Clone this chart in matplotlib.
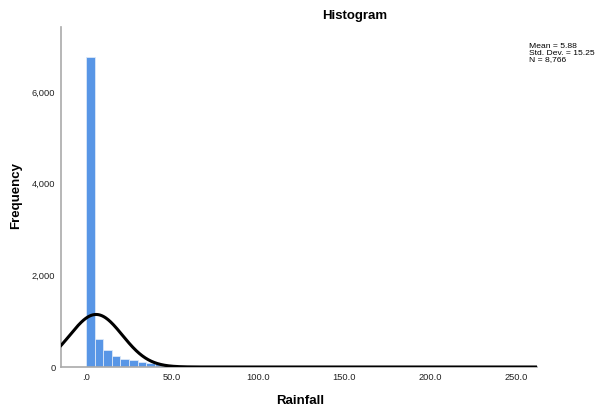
import numpy as np
import matplotlib.pyplot as plt

plt.rcParams['font.family'] = ['Liberation Sans', 'DejaVu Sans']

# --- Data ---
bin_width = 5.0
bin_starts = np.arange(0, 265, 5.0)   # 0, 5, ..., 260
counts = [6770, 604, 370, 247, 181, 153, 109, 80, 55, 35,
          22, 15, 10, 7, 6, 5, 4, 4, 3, 3,
          3, 2, 2, 2, 2, 1, 1, 1, 1, 1,
          1, 1, 1, 1, 1, 1, 1, 1, 0, 1,
          0, 1, 0, 1, 0, 0, 1, 0, 0, 0,
          1, 0, 1]
mean, sd, n = 5.88, 15.25, 8766
xticks = [0, 50, 100, 150, 200, 250]
xticklabels = ['.0', '50.0', '100.0', '150.0', '200.0', '250.0']
yticks = [0, 2000, 4000, 6000]
yticklabels = ['0', '2,000', '4,000', '6,000']

fig = plt.figure(figsize=(6.16, 4.11), dpi=100)
ax = fig.add_axes([61/616, 1 - 367/411, (537 - 61)/616, (367 - 27)/411])

ax.bar(bin_starts[:len(counts)], counts, width=bin_width, align='edge',
       color='#5896E6', edgecolor='#dce8f8', linewidth=0.6, zorder=2)

# normal curve from the stated mean / sd / N
xs = np.linspace(-16, 262, 800)
pdf = n * bin_width / (sd * np.sqrt(2 * np.pi)) * np.exp(-0.5 * ((xs - mean) / sd) ** 2)
ax.plot(xs, pdf, color='black', linewidth=2.2, zorder=3)

ax.set_xlim(-14.5, 262)
ax.set_ylim(0, 7420)
ax.set_xticks(xticks)
ax.set_xticklabels(xticklabels)
ax.set_yticks(yticks)
ax.set_yticklabels(yticklabels)
ax.tick_params(length=0, labelsize=6.7, colors='#222222', pad=4)
for s in ['top', 'right']:
    ax.spines[s].set_visible(False)
for s in ['left', 'bottom']:
    ax.spines[s].set_color('#aaaaaa')
    ax.spines[s].set_linewidth(1.2)

fig.text(61/616 - 45/616, 1 - 195/411, 'Frequency', rotation=90, fontsize=9.5,
         fontweight='bold', ha='center', va='center')
fig.text(300/616, 1 - 401/411, 'Rainfall', fontsize=9.5, fontweight='bold',
         ha='center', va='center')
fig.text(355/616, 1 - 16/411, 'Histogram', fontsize=9.5, fontweight='bold',
         ha='center', va='center')
fig.text(529/616, 1 - 43/411, f'Mean = {mean:.2f}\nStd. Dev. = {sd:.2f}\nN = {n:,}',
         fontsize=6.1, ha='left', va='top', linespacing=0.95)

fig.savefig('out.png', dpi=100)
